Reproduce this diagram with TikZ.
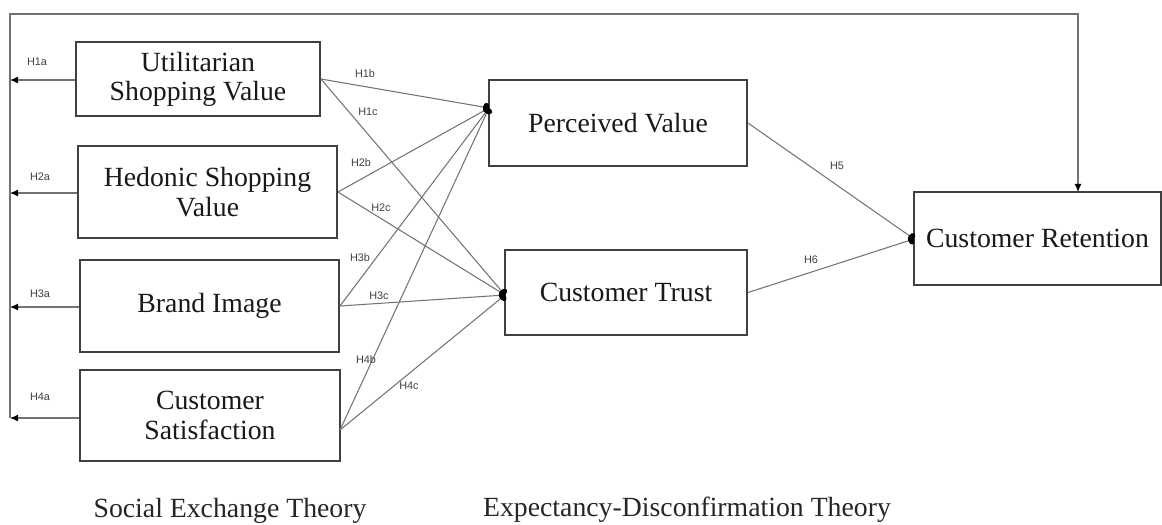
\documentclass[tikz,border=0pt]{standalone}
\usepackage{fontspec}
\setmainfont{Liberation Serif}
\newfontfamily\hypfont{Liberation Sans}
\usetikzlibrary{arrows.meta}
\begin{document}
\begin{tikzpicture}[x=0.02cm,y=-0.02cm,
    box/.style={draw=black!75,line width=1.1pt,fill=white,inner sep=0pt,align=center,
      text=black!90,font=\fontsize{15.8}{16.6}\selectfont},
    hyp/.style={font=\hypfont\fontsize{6.2}{7}\selectfont,text=black!75,inner sep=0pt},
    link/.style={draw=black!55,line width=0.6pt},
    toleft/.style={link,-{Latex[length=4.6pt,width=4pt,black]}},
    todot/.style={link,-{Ellipse[length=3.4pt,width=5.4pt,black]}},
    theory/.style={font=\fontsize{15.8}{16.6}\selectfont,text=black!85}]
  \useasboundingbox (0,0) rectangle (1162,524);
  % constructs
  \draw
    (198,79) node[box,minimum width=4.88cm,minimum height=1.48cm] (usv){Utilitarian\\Shopping Value}
    (207.5,192) node[box,minimum width=5.18cm,minimum height=1.84cm] (hsv){Hedonic Shopping\\Value}
    (209.5,306) node[box,minimum width=5.18cm,minimum height=1.84cm] (bi){Brand Image}
    (210,415.5) node[box,minimum width=5.2cm,minimum height=1.82cm] (cs){Customer\\Satisfaction}
    (618,123) node[box,minimum width=5.16cm,minimum height=1.72cm] (pv){Perceived Value}
    (626,292.5) node[box,minimum width=4.84cm,minimum height=1.7cm] (ct){Customer Trust}
    (1037.5,238.5) node[box,minimum width=4.94cm,minimum height=1.86cm] (cr){Customer Retention};
  % anchor points
  \coordinate (pvin) at (489,108);
  \coordinate (ctin) at (505,295);
  \coordinate (crin) at (914,239);
  \coordinate (csout) at (340,430);
  \coordinate (la) at (10,80);
  \coordinate (lb) at (10,193);
  \coordinate (lc) at (10,307);
  \coordinate (ld) at (10,418);
  \coordinate (corner) at (10,14);
  \coordinate (crtop) at (1078,192);
  % paths
  \begin{scope}
    \draw[toleft] (usv.west |- la) to (la);
    \draw[toleft] (hsv.west |- lb) to (lb);
    \draw[toleft] (bi.west |- lc) to (lc);
    \draw[toleft] (cs.west |- ld) to (ld);
    \draw[toleft] (ld) -- (corner) -| (crtop);
    \draw[todot] (usv.east) to (pvin);
    \draw[todot] (usv.east) to (ctin);
    \draw[todot] (hsv.east) to (pvin);
    \draw[todot] (hsv.east) to (ctin);
    \draw[todot] (bi.east) to (pvin);
    \draw[todot] (bi.east) to (ctin);
    \draw[todot] (csout) to (pvin);
    \draw[todot] (csout) to (ctin);
    \draw[todot] (pv.east) to (crin);
    \draw[todot] (ct.east) to (crin);
  \end{scope}
  % hypothesis labels
  \node[hyp] (h1a) at (37,62) {H1a};
  \node[hyp] (h2a) at (40,177) {H2a};
  \node[hyp] (h3a) at (40,294) {H3a};
  \node[hyp] (h4a) at (40,397) {H4a};
  \node[hyp] (h1b) at (365,74) {H1b};
  \node[hyp] (h1c) at (368,112) {H1c};
  \node[hyp] (h2b) at (361,163) {H2b};
  \node[hyp] (h2c) at (381,208) {H2c};
  \node[hyp] (h3b) at (360,258) {H3b};
  \node[hyp] (h3c) at (379,296) {H3c};
  \node[hyp] (h4b) at (366,360) {H4b};
  \node[hyp] (h4c) at (409,386) {H4c};
  \node[hyp] (h5) at (837,166) {H5};
  \node[hyp] (h6) at (811,260) {H6};
  % theories
  \node[theory] (set) at (230,511) {Social Exchange Theory};
  \node[theory] (edt) at (687,510) {Expectancy-Disconfirmation Theory};
\end{tikzpicture}
\end{document}
